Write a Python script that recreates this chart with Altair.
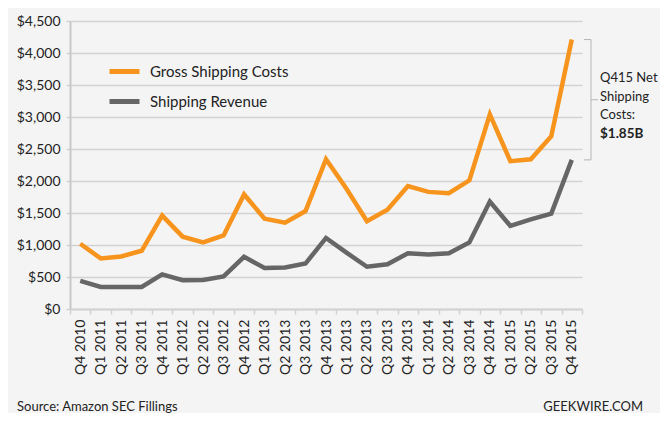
import json
import altair as alt
import pandas as pd

# ---- data ----
quarters = ["Q4 2010", "Q1 2011", "Q2 2011", "Q3 2011", "Q4 2011", "Q1 2012", "Q2 2012",
            "Q3 2012", "Q4 2012", "Q1 2013", "Q2 2013", "Q3 2013", "Q4 2013", "Q1 2013",
            "Q2 2013", "Q3 2013", "Q4 2013", "Q1 2014", "Q2 2014", "Q3 2014", "Q4 2014",
            "Q1 2015", "Q2 2015", "Q3 2015", "Q4 2015"]
gross_shipping_costs = [1020, 790, 820, 910, 1460, 1130, 1040, 1150, 1790, 1410, 1350, 1530,
                        2340, 1880, 1370, 1550, 1920, 1830, 1810, 2010, 3040, 2310, 2340, 2700, 4210]
shipping_revenue = [440, 345, 345, 345, 540, 450, 455, 510, 815, 640, 650, 710,
                    1110, 880, 660, 700, 870, 850, 870, 1040, 1680, 1300, 1400, 1490, 2330]
series_names = ["Gross Shipping Costs", "Shipping Revenue"]
series_colors = ["#f7941d", "#666666"]
y_ticks = [0, 500, 1000, 1500, 2000, 2500, 3000, 3500, 4000, 4500]
annotation_lines = ["Q415 Net", "Shipping", "Costs:"]
annotation_value = "$1.85B"
source_text = "Source: Amazon SEC Fillings"
brand_text = "GEEKWIRE.COM"

FONT = "Lato"
TEXT_COLOR = "#222222"
GRID = "#d2d2d2"

n = len(quarters)
df = pd.DataFrame({
    "idx": list(range(n)) * 2,
    "quarter": quarters * 2,
    "value": gross_shipping_costs + shipping_revenue,
    "series": [series_names[0]] * n + [series_names[1]] * n,
})
bracket = pd.DataFrame({
    "top": [gross_shipping_costs[-1]],
    "bottom": [shipping_revenue[-1]],
    "mid": [(gross_shipping_costs[-1] + shipping_revenue[-1]) / 2],
})

label_expr = json.dumps(quarters) + "[datum.value]"

y_scale = alt.Scale(domain=[0, 4500], nice=False)
y_axis = alt.Axis(title=None, values=y_ticks, format="$,.0f",
                  labelOverlap=False, labelFlush=False,
                  grid=True, gridColor=GRID, gridWidth=1.5,
                  tickSize=4, tickColor=GRID, tickWidth=1.5,
                  domainColor="#c8c8c8", domainWidth=2, labelPadding=6,
                  labelFont=FONT, labelFontSize=14, labelColor=TEXT_COLOR)

lines = alt.Chart(df).mark_line(strokeWidth=4.5).encode(
    x=alt.X("idx:O",
            scale=alt.Scale(type="band", paddingInner=0, paddingOuter=0),
            bandPosition=0.5,
            axis=alt.Axis(title=None, labelExpr=label_expr, labelAngle=270,
                          labelAlign="right", labelBaseline="middle",
                          labelOverlap=False,
                          tickBand="extent", tickSize=5, tickColor=GRID, tickWidth=1.5,
                          domainColor=GRID, domainWidth=2, labelPadding=5,
                          labelFont=FONT, labelFontSize=14, labelColor=TEXT_COLOR,
                          grid=False)),
    y=alt.Y("value:Q", scale=y_scale, axis=y_axis),
    color=alt.Color("series:N",
                    scale=alt.Scale(domain=series_names, range=series_colors),
                    legend=alt.Legend(orient="none", legendX=37, legendY=33, title=None,
                                      direction="vertical", symbolType="stroke",
                                      symbolSize=900, symbolStrokeWidth=5,
                                      labelFont=FONT, labelFontSize=15,
                                      labelColor=TEXT_COLOR, labelOffset=8,
                                      rowPadding=2, padding=0)),
)

rule_style = dict(color="#b5b5b5", strokeWidth=1)
base_b = alt.Chart(bracket)
vert = base_b.mark_rule(**rule_style).encode(
    x=alt.value(521), y=alt.Y("top:Q", scale=y_scale, axis=y_axis), y2="bottom:Q")
top_tick = base_b.mark_rule(**rule_style).encode(
    x=alt.value(514), x2=alt.value(521), y=alt.Y("top:Q", scale=y_scale, axis=y_axis))
bottom_tick = base_b.mark_rule(**rule_style).encode(
    x=alt.value(514), x2=alt.value(521), y=alt.Y("bottom:Q", scale=y_scale, axis=y_axis))
mid_tick = base_b.mark_rule(**rule_style).encode(
    x=alt.value(521), x2=alt.value(528), y=alt.Y("mid:Q", scale=y_scale, axis=y_axis))

ann_text = base_b.mark_text(align="left", baseline="alphabetic", font=FONT, fontSize=13,
                            lineHeight=18.7, color=TEXT_COLOR).encode(
    x=alt.value(530), y=alt.value(61), text=alt.value(annotation_lines))
ann_value = base_b.mark_text(align="left", baseline="alphabetic", font=FONT, fontSize=13.5,
                             fontWeight="bold", color=TEXT_COLOR).encode(
    x=alt.value(530), y=alt.value(117), text=alt.value(annotation_value))

src = base_b.mark_text(align="left", baseline="alphabetic", font=FONT, fontSize=13,
                       color=TEXT_COLOR).encode(
    x=alt.value(-53), y=alt.value(390), text=alt.value(source_text))
brand = base_b.mark_text(align="right", baseline="alphabetic", font=FONT, fontSize=13,
                         color=TEXT_COLOR).encode(
    x=alt.value(573), y=alt.value(390), text=alt.value(brand_text))

chart = alt.layer(lines, vert, top_tick, bottom_tick, mid_tick,
                  ann_text, ann_value, src, brand).properties(
    width=512, height=288,
    autosize=alt.AutoSizeParams(type="none"),
    padding={"left": 62, "top": 13, "right": 78, "bottom": 104},
).configure(background="#f4f4f4").configure_view(stroke=None)

chart.save("out.html", embed_options={"renderer": "svg", "actions": False})
